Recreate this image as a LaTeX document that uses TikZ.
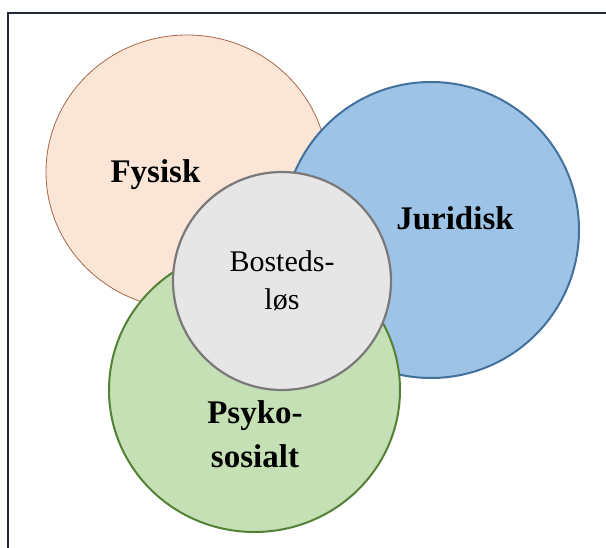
\documentclass[tikz,border=0pt]{standalone}
\usepackage{fontspec}
\setmainfont{Liberation Serif}
\usetikzlibrary{shapes.geometric}
\definecolor{peachfill}{HTML}{FBE5D6}
\definecolor{peachline}{HTML}{A8684A}
\definecolor{bluefill}{HTML}{9DC3E6}
\definecolor{blueline}{HTML}{41719C}
\definecolor{greenfill}{HTML}{C5E0B4}
\definecolor{greenline}{HTML}{538135}
\definecolor{grayfill}{HTML}{E7E6E6}
\definecolor{grayline}{HTML}{7A7878}
\definecolor{frameline}{HTML}{222A35}

\begin{document}
\begin{tikzpicture}[x=1pt,y=-1pt]
	\def \boldfont{\fontsize{33}{44}\selectfont\bfseries}
	\def \plainfont{\fontsize{30}{38.5}\selectfont}
	\tikzstyle{set-node}=[ellipse,inner sep=0pt,line width=2pt]
	\tikzstyle{annot}=[inner sep=0pt,align=center,anchor=base,font=\boldfont]
	\useasboundingbox (0,0) rectangle (606,548);
	% frame
	\draw[frameline,line width=2pt] (8,560) -- (8,13) -- (620,13);

	% the four sets
	\node[set-node,draw=peachline,fill=peachfill,line width=0.8pt,minimum width=282pt,minimum height=274pt] (fys) at (187,172) {};
	\node[set-node,draw=blueline,fill=bluefill,minimum width=296pt,minimum height=296pt] (jur) at (431,230) {};
	\node[set-node,draw=greenline,fill=greenfill,minimum width=291pt,minimum height=284pt] (psy) at (254.5,390) {};
	\node[set-node,draw=grayline,fill=grayfill,line width=2.2pt,minimum width=218pt,minimum height=218pt] (bos) at (282,281) {};

	% labels (base = last line)
	\node[annot] (fys-label) at (155.5,182.7) {Fysisk};
	\node[annot] (jur-label) at (455,229.4) {Juridisk};
	\node[annot,font=\plainfont] (bos-label) at (282,310) {Bosteds-\\løs};
	\node[annot] (psy-label) at (255,467.6) {Psyko-\\sosialt};
\end{tikzpicture}
\end{document}
